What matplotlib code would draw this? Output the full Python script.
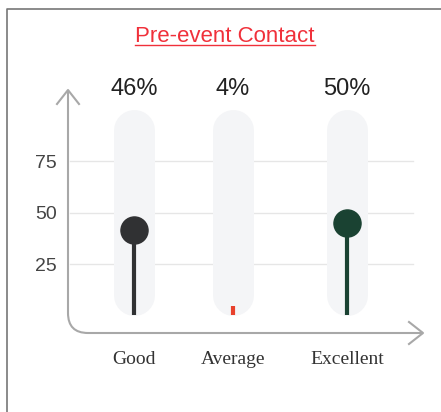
import matplotlib
matplotlib.use("Agg")
import matplotlib.pyplot as plt
from matplotlib.path import Path
from matplotlib.patches import PathPatch
from matplotlib.lines import Line2D

# data
categories = ["Good", "Average", "Excellent"]
percent = [46, 4, 50]
colors = ["#303133", "#e8412c", "#1a4232"]
grid_ticks = [25, 50, 75]

# layout
xpos = [0, 1, 2.15]
SCALE = 0.9          # stems use 90% of the pill height
W, H = 441, 412

fig = plt.figure(figsize=(W / 100, H / 100), dpi=100)
ax = fig.add_axes([68 / W, (H - 333) / H, 355 / W, 243 / H])
ax.set_xlim(-0.667, 2.919)
ax.set_ylim(-8.5, 109.5)
for s in ax.spines.values():
    s.set_visible(False)
ax.set_xticks([])
ax.set_yticks(grid_ticks)
ax.set_yticklabels([str(t) for t in grid_ticks], fontsize=14,
                   color="#444444", family="Liberation Sans")
ax.tick_params(axis="y", length=0, pad=8)

# gridlines
for t in grid_ticks:
    ax.axhline(t, xmin=0.006, xmax=0.972, color="#e6e6e6", lw=1, zorder=0)

# pill backgrounds (thick round-capped lines)
pill_w = 41 * 72 / 100
cap = 20.5 / 2.06
for x in xpos:
    ax.plot([x, x], [cap, 100 - cap], color="#f4f5f7", lw=pill_w,
            solid_capstyle="round", zorder=1)

# stems + dots
for x, p, c in zip(xpos, percent, colors):
    v = p * SCALE
    if p < 10:
        ax.plot([x, x], [0, v + 1], color=c, lw=3, solid_capstyle="butt", zorder=2)
    else:
        ax.plot([x, x], [0, v], color=c, lw=3, solid_capstyle="butt", zorder=2)
        ax.plot([x], [v], "o", color=c, ms=19.5, zorder=3)
    ax.text(x, 107, f"{p}%", ha="center", va="baseline", fontsize=17,
            color="#222222", family="Liberation Sans", clip_on=False)

for x, lab in zip(xpos, categories):
    ax.text(x, -23.5, lab, ha="center", va="baseline", fontsize=14,
            color="#333333", family="Liberation Serif", clip_on=False)

# axis line with rounded corner and arrowheads
rx, ry = 20 / 355, 20 / 243
verts = [(0, 1), (0, ry), (0, 0), (rx, 0), (1, 0)]
codes = [Path.MOVETO, Path.LINETO, Path.CURVE3, Path.CURVE3, Path.LINETO]
ax.add_patch(PathPatch(Path(verts, codes), fill=False, ec="#a8a8a8", lw=1.5,
                       transform=ax.transAxes, clip_on=False))
ax.plot([-11 / 355, 0, 11 / 355], [1 - 14 / 243, 1, 1 - 14 / 243],
        color="#a8a8a8", lw=1.5, transform=ax.transAxes, clip_on=False)
ax.plot([1 - 14 / 355, 1, 1 - 14 / 355], [11 / 243, 0, -11 / 243],
        color="#a8a8a8", lw=1.5, transform=ax.transAxes, clip_on=False)

# title with underline
title = fig.text(225 / W, (H - 42) / H, "Pre-event Contact", ha="center",
                 va="baseline", fontsize=16, color="#f0303a",
                 family="Liberation Sans")
fig.canvas.draw()
bb = title.get_window_extent()
uy = (H - 45) / H
fig.add_artist(Line2D([bb.x0 / W, bb.x1 / W], [uy, uy], color="#f0303a", lw=1))

# outer frame
fig.add_artist(Line2D([6.5 / W, 6.5 / W, 1], [0, (H - 8.5) / H, (H - 8.5) / H],
                      color="#777777", lw=1.2))

fig.savefig("out.png", dpi=100)
